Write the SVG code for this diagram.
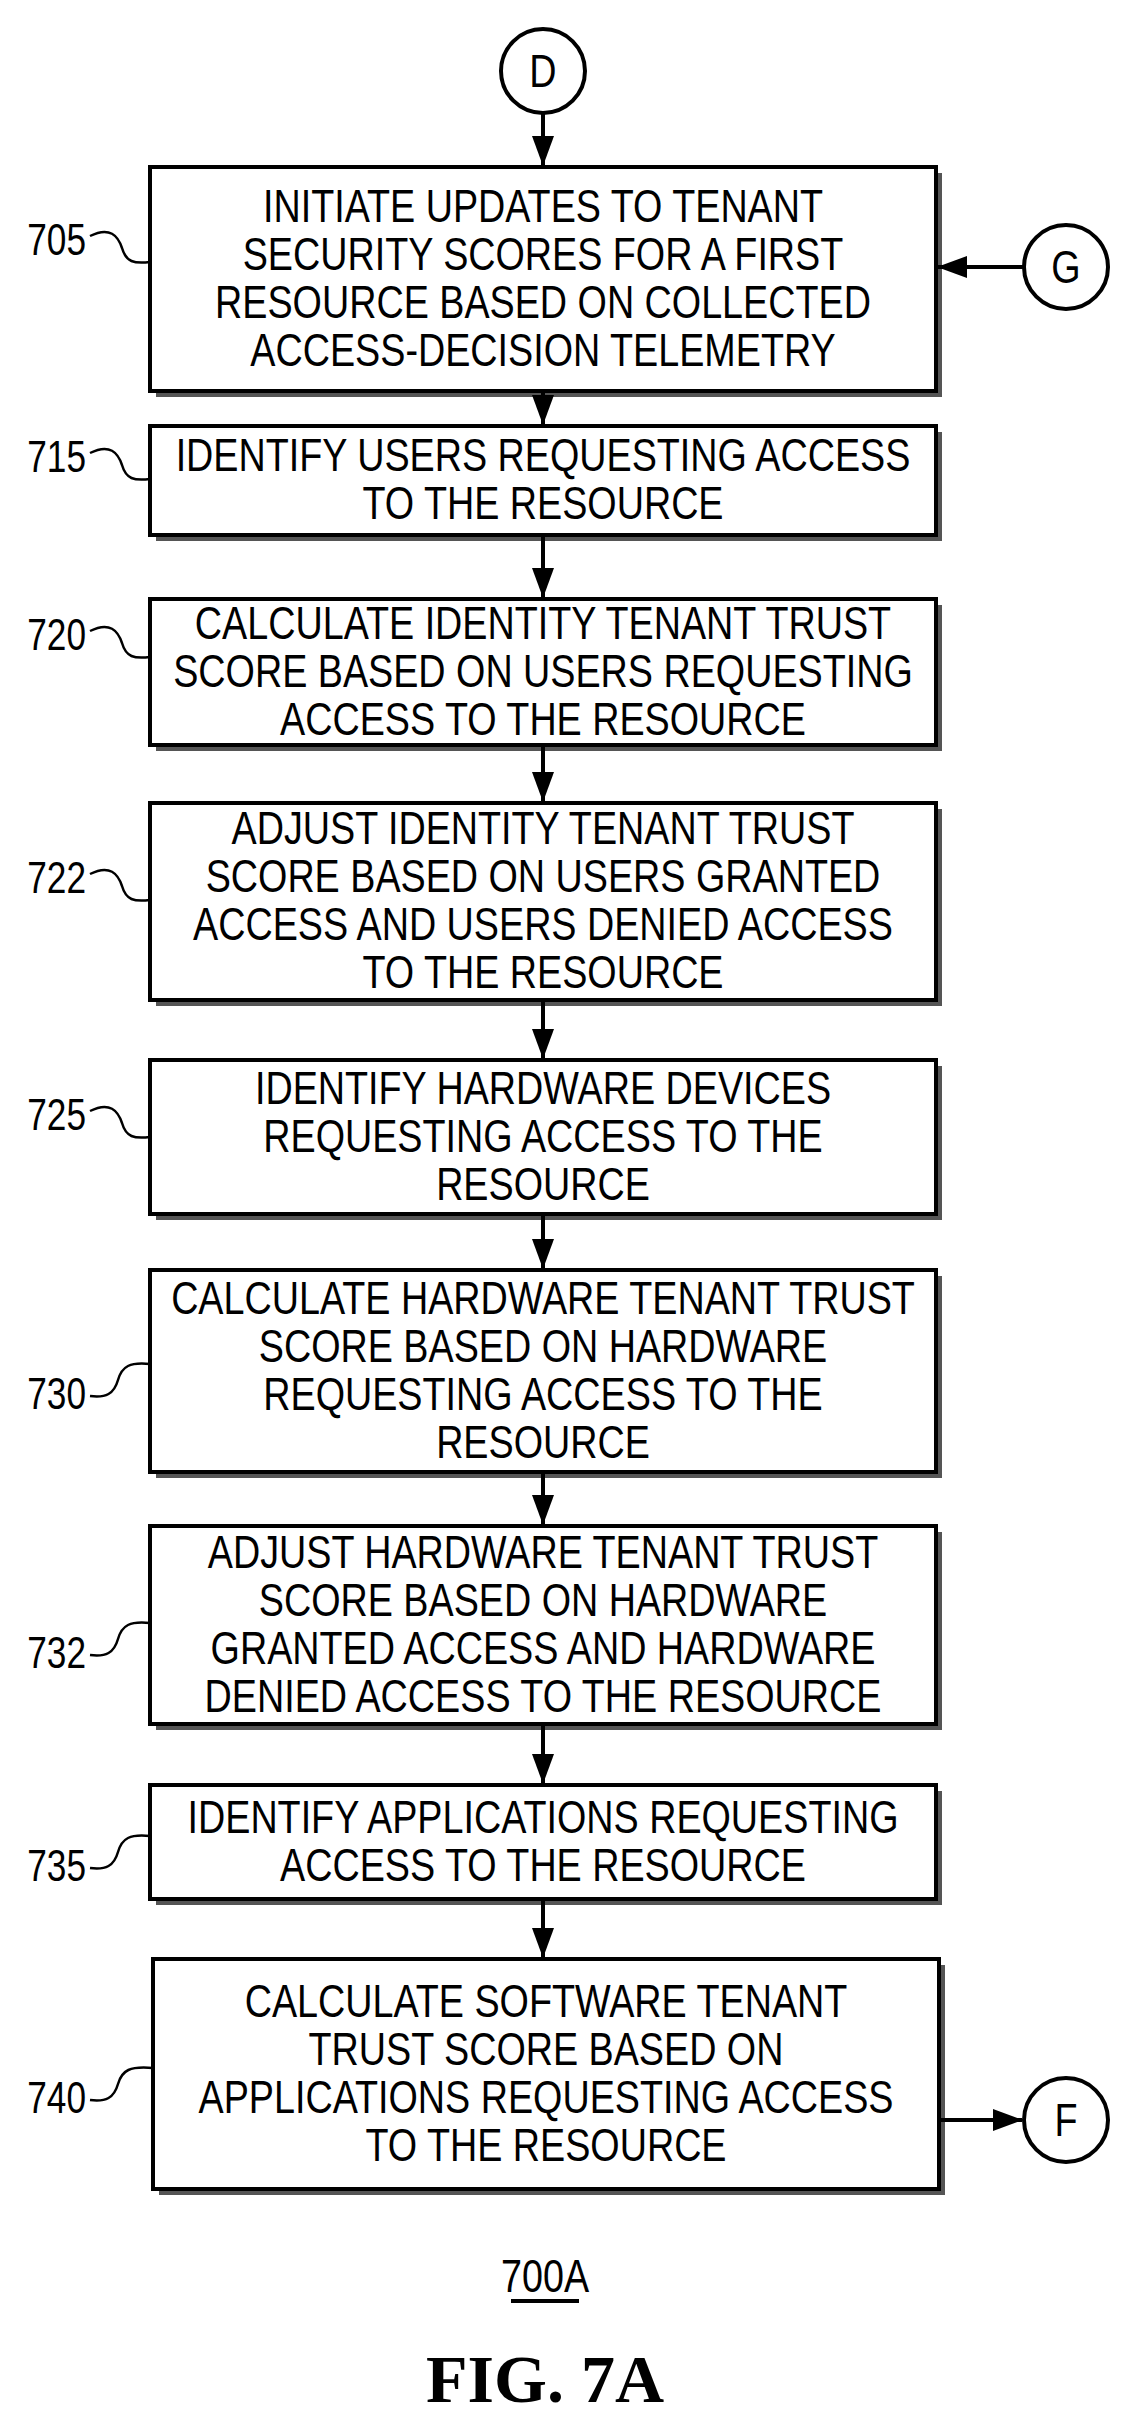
<svg xmlns="http://www.w3.org/2000/svg" width="1145" height="2427" viewBox="0 0 1145 2427">
<style>
.sh{fill:#555}
.bx{fill:#fff;stroke:#000;stroke-width:4}
.t{font-family:"Liberation Sans",Arial,sans-serif;font-size:46px;text-anchor:middle;fill:#000;transform-box:fill-box;transform-origin:center;transform:scaleX(0.82)}
.l{font-family:"Liberation Sans",Arial,sans-serif;font-size:44px;text-anchor:end;fill:#000;transform-box:fill-box;transform-origin:right;transform:scaleX(0.8)}
.c{fill:#fff;stroke:#000;stroke-width:4}
.sq{fill:none;stroke:#000;stroke-width:2.5}
.e{stroke:#000;stroke-width:4;fill:none;marker-end:url(#a)}
</style>
<defs><marker id="a" markerWidth="30" markerHeight="22" refX="29" refY="11" orient="auto" markerUnits="userSpaceOnUse" viewBox="0 0 30 22"><path d="M0,0L30,11L0,22Z" fill="#000"/></marker></defs>
<rect width="1145" height="2427" fill="#fff"/>
<g id="D"><circle class="c" cx="543" cy="71" r="42"/><text class="t" x="543" y="87">D</text></g>
<g id="G"><circle class="c" cx="1066" cy="267" r="42"/><text class="t" x="1066" y="283">G</text></g>
<g id="F"><circle class="c" cx="1066" cy="2120" r="42"/><text class="t" x="1066" y="2136">F</text></g>
<g id="n705"><rect class="sh" x="156" y="173" width="786" height="224"/><rect class="bx" x="150" y="167" width="786" height="224"/>
<text class="t" x="543" y="222">INITIATE UPDATES TO TENANT</text><text class="t" x="543" y="270">SECURITY SCORES FOR A FIRST</text><text class="t" x="543" y="318">RESOURCE BASED ON COLLECTED</text><text class="t" x="543" y="366">ACCESS-DECISION TELEMETRY</text>
<text class="l" x="86" y="255">705</text><path class="sq" d="M90,236 C110,226 118,236 122,248 C126,262 134,264 150,262"/></g>
<g id="n715"><rect class="sh" x="156" y="432" width="786" height="109"/><rect class="bx" x="150" y="426" width="786" height="109"/>
<text class="t" x="543" y="471">IDENTIFY USERS REQUESTING ACCESS</text><text class="t" x="543" y="519">TO THE RESOURCE</text>
<text class="l" x="86" y="472">715</text><path class="sq" d="M90,453 C110,443 118,453 122,465 C126,479 134,481 150,479"/></g>
<g id="n720"><rect class="sh" x="156" y="605" width="786" height="146"/><rect class="bx" x="150" y="599" width="786" height="146"/>
<text class="t" x="543" y="639">CALCULATE IDENTITY TENANT TRUST</text><text class="t" x="543" y="687">SCORE BASED ON USERS REQUESTING</text><text class="t" x="543" y="735">ACCESS TO THE RESOURCE</text>
<text class="l" x="86" y="650">720</text><path class="sq" d="M90,631 C110,621 118,631 122,643 C126,657 134,659 150,657"/></g>
<g id="n722"><rect class="sh" x="156" y="809" width="786" height="197"/><rect class="bx" x="150" y="803" width="786" height="197"/>
<text class="t" x="543" y="844">ADJUST IDENTITY TENANT TRUST</text><text class="t" x="543" y="892">SCORE BASED ON USERS GRANTED</text><text class="t" x="543" y="940">ACCESS AND USERS DENIED ACCESS</text><text class="t" x="543" y="988">TO THE RESOURCE</text>
<text class="l" x="86" y="893">722</text><path class="sq" d="M90,874 C110,864 118,874 122,886 C126,900 134,902 150,900"/></g>
<g id="n725"><rect class="sh" x="156" y="1066" width="786" height="154"/><rect class="bx" x="150" y="1060" width="786" height="154"/>
<text class="t" x="543" y="1104">IDENTIFY HARDWARE DEVICES</text><text class="t" x="543" y="1152">REQUESTING ACCESS TO THE</text><text class="t" x="543" y="1200">RESOURCE</text>
<text class="l" x="86" y="1130">725</text><path class="sq" d="M90,1111 C110,1101 118,1111 122,1123 C126,1137 134,1139 150,1137"/></g>
<g id="n730"><rect class="sh" x="156" y="1276" width="786" height="202"/><rect class="bx" x="150" y="1270" width="786" height="202"/>
<text class="t" x="543" y="1314">CALCULATE HARDWARE TENANT TRUST</text><text class="t" x="543" y="1362">SCORE BASED ON HARDWARE</text><text class="t" x="543" y="1410">REQUESTING ACCESS TO THE</text><text class="t" x="543" y="1458">RESOURCE</text>
<text class="l" x="86" y="1409">730</text><path class="sq" d="M90,1396 C106,1398 114,1394 118,1380 C122,1366 130,1362 150,1364"/></g>
<g id="n732"><rect class="sh" x="156" y="1532" width="786" height="198"/><rect class="bx" x="150" y="1526" width="786" height="198"/>
<text class="t" x="543" y="1568">ADJUST HARDWARE TENANT TRUST</text><text class="t" x="543" y="1616">SCORE BASED ON HARDWARE</text><text class="t" x="543" y="1664">GRANTED ACCESS AND HARDWARE</text><text class="t" x="543" y="1712">DENIED ACCESS TO THE RESOURCE</text>
<text class="l" x="86" y="1668">732</text><path class="sq" d="M90,1655 C106,1657 114,1653 118,1639 C122,1625 130,1621 150,1623"/></g>
<g id="n735"><rect class="sh" x="156" y="1791" width="786" height="114"/><rect class="bx" x="150" y="1785" width="786" height="114"/>
<text class="t" x="543" y="1833">IDENTIFY APPLICATIONS REQUESTING</text><text class="t" x="543" y="1881">ACCESS TO THE RESOURCE</text>
<text class="l" x="86" y="1881">735</text><path class="sq" d="M90,1868 C106,1870 114,1866 118,1852 C122,1838 130,1834 150,1836"/></g>
<g id="n740"><rect class="sh" x="159" y="1965" width="786" height="230"/><rect class="bx" x="153" y="1959" width="786" height="230"/>
<text class="t" x="546" y="2017">CALCULATE SOFTWARE TENANT</text><text class="t" x="546" y="2065">TRUST SCORE BASED ON</text><text class="t" x="546" y="2113">APPLICATIONS REQUESTING ACCESS</text><text class="t" x="546" y="2161">TO THE RESOURCE</text>
<text class="l" x="86" y="2113">740</text><path class="sq" d="M90,2100 C106,2102 114,2098 118,2084 C122,2070 130,2066 153,2068"/></g>
<g id="connectors">
<line class="e" x1="543" y1="113" x2="543" y2="165"/>
<line class="e" x1="1024" y1="267" x2="938" y2="267"/>
<line class="e" x1="543" y1="393" x2="543" y2="424"/>
<line class="e" x1="543" y1="537" x2="543" y2="597"/>
<line class="e" x1="543" y1="747" x2="543" y2="801"/>
<line class="e" x1="543" y1="1002" x2="543" y2="1058"/>
<line class="e" x1="543" y1="1216" x2="543" y2="1268"/>
<line class="e" x1="543" y1="1474" x2="543" y2="1524"/>
<line class="e" x1="543" y1="1726" x2="543" y2="1783"/>
<line class="e" x1="543" y1="1901" x2="543" y2="1957"/>
<line class="e" x1="941" y1="2120" x2="1022" y2="2120"/>
</g>
<text class="t" x="545" y="2292">700A</text>
<line x1="511" y1="2301" x2="579" y2="2301" stroke="#000" stroke-width="4"/>
<text x="545" y="2402" font-family="Liberation Serif,serif" font-weight="bold" font-size="68" text-anchor="middle">FIG. 7A</text>
</svg>
